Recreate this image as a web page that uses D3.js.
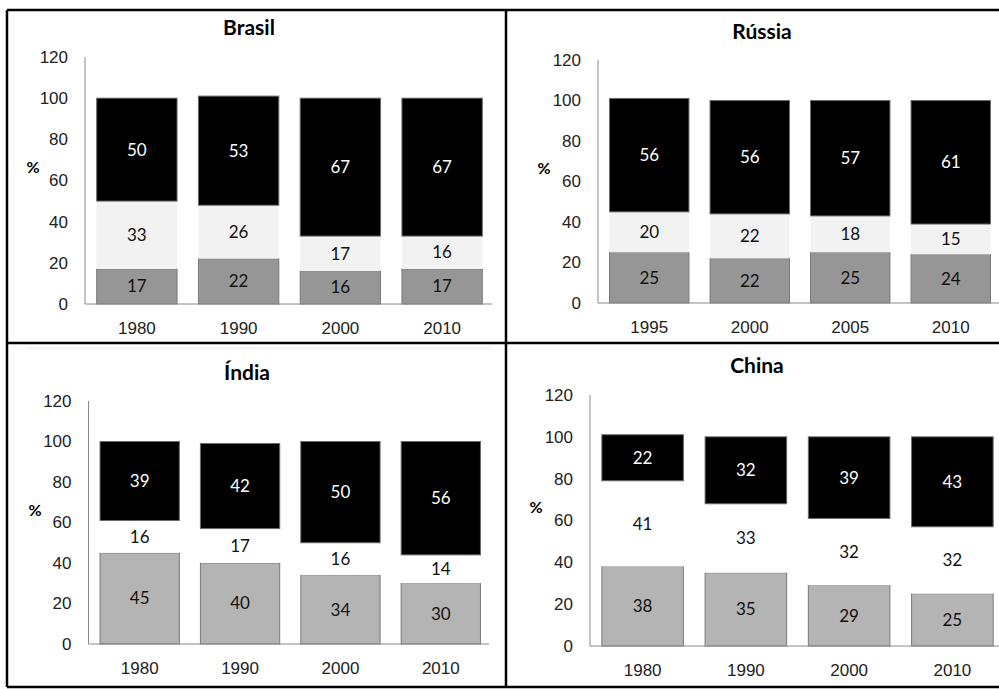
<!DOCTYPE html>
<html>
<head>
<meta charset="utf-8">
<script src="https://cdn.jsdelivr.net/npm/d3@7/dist/d3.min.js"></script>
<style>
  body { margin: 0; background: #fff; }
  svg { display: block; font-family: Lato, "Open Sans", sans-serif; }
  .tick text { font-size: 17px; fill: #222; }
  .domain { stroke: #8a8a8a; }
</style>
</head>
<body>
<div class="chart"></div>
<script>
// dados por país (base, meio, topo), em %
var brasilYears = ["1980", "1990", "2000", "2010"];
var brasilBase = [17, 22, 16, 17];
var brasilMid = [33, 26, 17, 16];
var brasilTop = [50, 53, 67, 67];

var russiaYears = ["1995", "2000", "2005", "2010"];
var russiaBase = [25, 22, 25, 24];
var russiaMid = [20, 22, 18, 15];
var russiaTop = [56, 56, 57, 61];

var indiaYears = ["1980", "1990", "2000", "2010"];
var indiaBase = [45, 40, 34, 30];
var indiaMid = [16, 17, 16, 14];
var indiaTop = [39, 42, 50, 56];

var chinaYears = ["1980", "1990", "2000", "2010"];
var chinaBase = [38, 35, 29, 25];
var chinaMid = [41, 33, 32, 32];
var chinaTop = [22, 32, 39, 43];

var yTicks = [0, 20, 40, 60, 80, 100, 120];

var width = 999, height = 689;

var svg = d3.select(".chart").append("svg")
    .attr("width", width)
    .attr("height", height);

// posição de cada painel
var panels = [
  {title: "Brasil", years: brasilYears, base: brasilBase, mid: brasilMid, top: brasilTop,
   x0: 86, x1: 493, y0: 304, y1: 57, axisEnd: 492, tx: 249, ty: 28, px: 33, py: 167,
   baseColor: "#969696", midColor: "#f2f2f2"},
  {title: "Rússia", years: russiaYears, base: russiaBase, mid: russiaMid, top: russiaTop,
   x0: 599, x1: 1001, y0: 303, y1: 60, axisEnd: 999, tx: 762, ty: 32, px: 544, py: 168,
   baseColor: "#969696", midColor: "#f2f2f2"},
  {title: "Índia", years: indiaYears, base: indiaBase, mid: indiaMid, top: indiaTop,
   x0: 89.5, x1: 491, y0: 644, y1: 401, axisEnd: 489, tx: 247, ty: 373, px: 35, py: 510,
   baseColor: "#b4b4b4", midColor: "#ffffff"},
  {title: "China", years: chinaYears, base: chinaBase, mid: chinaMid, top: chinaTop,
   x0: 591, x1: 1004, y0: 646, y1: 395, axisEnd: 999, tx: 757, ty: 366, px: 536, py: 507,
   baseColor: "#b4b4b4", midColor: "#ffffff"}
];

// linha clara no topo do painel da Índia
svg.append("line")
    .attr("x1", 27).attr("x2", 490)
    .attr("y1", 348).attr("y2", 348)
    .attr("stroke", "#e6e6e6");

panels.forEach(function(p) {
  var x = d3.scaleBand()
    .domain(p.years)
    .range([p.x0, p.x1])
    .paddingInner(0.21)
    .paddingOuter(0.105);

  var y = d3.scaleLinear()
    .domain([0, 120])
    .range([p.y0, p.y1]);

  var rows = p.years.map(function(yr, i) {
    return {year: yr, base: p.base[i], mid: p.mid[i], top: p.top[i]};
  });

  var stack = d3.stack().keys(["base", "mid", "top"])(rows);
  var fills = {base: p.baseColor, mid: p.midColor, top: "#000"};
  var strokes = {base: "#7a7a7a", mid: "none", top: "#6a6a6a"};
  var textFill = {base: "#111", mid: "#111", top: "#fff"};

  var g = svg.append("g");

  var layer = g.selectAll(".layer")
    .data(stack)
  .enter().append("g")
    .attr("class", "layer");

  layer.selectAll("rect")
    .data(function(d) { return d.map(function(s) { s.key = d.key; return s; }); })
  .enter().append("rect")
    .attr("x", function(d) { return x(d.data.year); })
    .attr("width", x.bandwidth())
    .attr("y", function(d) { return y(d[1]); })
    .attr("height", function(d) { return y(d[0]) - y(d[1]); })
    .attr("fill", function(d) { return fills[d.key]; })
    .attr("stroke", function(d) { return strokes[d.key]; })
    .attr("stroke-width", 1);

  layer.selectAll("text")
    .data(function(d) { return d; })
  .enter().append("text")
    .attr("x", function(d) { return x(d.data.year) + x.bandwidth() / 2; })
    .attr("y", function(d) { return y((d[0] + d[1]) / 2); })
    .attr("dy", "0.35em")
    .attr("text-anchor", "middle")
    .style("font-size", "17px")
    .attr("fill", function(d) { return textFill[d.key]; })
    .text(function(d) { return d.data[d.key]; });

  // eixos
  var yAxis = d3.axisLeft(y).tickValues(yTicks).tickSize(0).tickPadding(17);
  var ya = g.append("g")
    .attr("transform", "translate(" + (p.x0 - 1) + ",0)")
    .call(yAxis);
  ya.select(".domain").attr("d", "M0," + p.y0 + "V" + p.y1);

  var xAxis = d3.axisBottom(x).tickSize(0).tickPadding(18);
  var xa = g.append("g")
    .attr("transform", "translate(0," + p.y0 + ")")
    .call(xAxis);
  xa.select(".domain").attr("d", "M" + (p.x0 - 1) + ",0H" + p.axisEnd);

  g.append("text")
    .attr("x", p.tx).attr("y", p.ty)
    .attr("dy", "0.35em")
    .attr("text-anchor", "middle")
    .style("font-size", "21px")
    .style("font-weight", "bold")
    .text(p.title);

  g.append("text")
    .attr("x", p.px).attr("y", p.py)
    .attr("dy", "0.35em")
    .attr("text-anchor", "middle")
    .style("font-size", "16px")
    .style("font-weight", "bold")
    .text("%");
});

// moldura
var frame = [
  [7, 10, 999, 10], [7, 343, 999, 343], [7, 687, 999, 687],
  [7, 10, 7, 687], [506, 10, 506, 687]
];
svg.selectAll(".frame")
    .data(frame)
  .enter().append("line")
    .attr("class", "frame")
    .attr("x1", function(d) { return d[0]; })
    .attr("y1", function(d) { return d[1]; })
    .attr("x2", function(d) { return d[2]; })
    .attr("y2", function(d) { return d[3]; })
    .attr("stroke", "#000")
    .attr("stroke-width", 2.5);
</script>
</body>
</html>
